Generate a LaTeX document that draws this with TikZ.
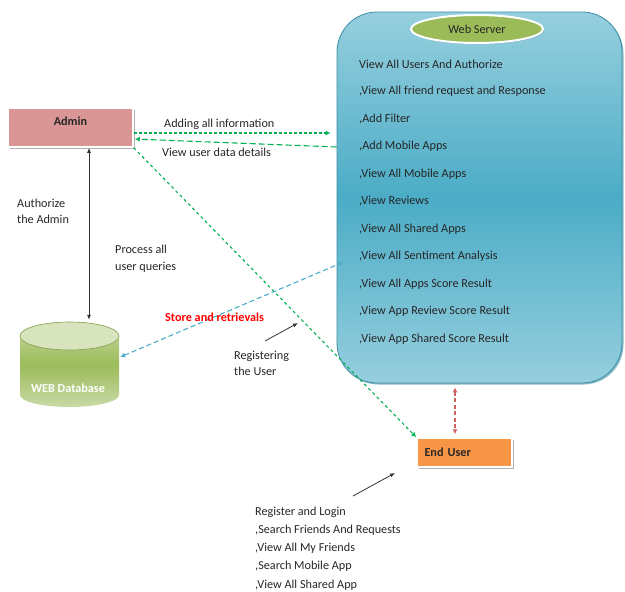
\documentclass[tikz,border=0pt]{standalone}
\usepackage{fontspec}
\setmainfont{Carlito}
\usetikzlibrary{arrows.meta,shadows,shapes.geometric}
\definecolor{txt}{HTML}{262626}
\definecolor{adminfill}{HTML}{D99694}
\definecolor{userfill}{HTML}{F79646}
\definecolor{wsgreen}{HTML}{9BBB59}
\definecolor{srvlight}{HTML}{96CFDE}
\definecolor{srvmid}{HTML}{4BACC6}
\definecolor{srvedge}{HTML}{3B8DA5}
\definecolor{dblight}{HTML}{C9DAA6}
\definecolor{dbtop}{HTML}{D7E4BD}
\definecolor{gline}{HTML}{00B050}
\definecolor{bline}{HTML}{4BACC6}
\definecolor{rline}{HTML}{D0605E}
\newcommand{\myfs}{\fontsize{12.2}{14}\selectfont}
\tikzset{
  base/.style={font=\myfs, text=txt},
  lbl/.style={base, anchor=west, inner sep=0pt},
  boxshadow/.style={drop shadow={shadow xshift=2pt,shadow yshift=-2pt,fill=black,opacity=0.3}},
  gdash/.style={draw=gline, line width=1.1pt, dash pattern=on 3pt off 2pt, -{Latex[length=5pt,width=5pt]}},
  gdashlong/.style={draw=gline, line width=1.1pt, dash pattern=on 6pt off 3pt, -{Latex[length=5pt,width=5pt]}},
  bdash/.style={draw=bline, line width=1.1pt, dash pattern=on 5pt off 3pt, {Latex[length=5pt,width=5pt]}-{Latex[length=5pt,width=5pt]}},
  rdash/.style={draw=rline, line width=1.1pt, dash pattern=on 4pt off 2.5pt, {Latex[length=5pt,width=5pt]}-{Latex[length=5pt,width=5pt]}},
  blk/.style={draw=black!80, line width=0.8pt, -{Latex[length=5pt,width=4pt]}},
}
\begin{document}
\begin{tikzpicture}[x=1pt,y=-1pt]
\useasboundingbox (0,0) rectangle (625,592);

% Web server box
\node (server) [draw=srvedge, line width=0.8pt, rounded corners=40pt, minimum width=285pt, minimum height=371pt,
  top color=srvlight, bottom color=srvlight, middle color=srvmid,
  drop shadow={shadow xshift=1.5pt,shadow yshift=-1.5pt,fill=srvedge,opacity=0.6}] at (479.5,197.5) {};
\node (wslabel) [ellipse, draw=white, line width=2pt, fill=wsgreen, minimum width=132pt, minimum height=28pt, inner sep=0pt,
  base, drop shadow={shadow xshift=1pt,shadow yshift=-1pt,fill=black,opacity=0.25}] at (477,29) {Web Server};

\node (s1) [lbl] at (359,64) {View All Users And Authorize};
\node (s2) [lbl] at (359,91.5) {,View All friend request and Response};
\node (s3) [lbl] at (359,119) {,Add Filter};
\node (s4) [lbl] at (359,146.5) {,Add Mobile Apps};
\node (s5) [lbl] at (359,174) {,View All Mobile Apps};
\node (s6) [lbl] at (359,201.5) {,View Reviews};
\node (s7) [lbl] at (359,229) {,View All Shared Apps};
\node (s8) [lbl] at (359,256.5) {,View All Sentiment Analysis};
\node (s9) [lbl] at (359,284) {,View All Apps Score Result};
\node (s10) [lbl] at (359,311.5) {,View App Review Score Result};
\node (s11) [lbl] at (359,339) {,View App Shared Score Result};

% Admin
\node (admin) [fill=adminfill, draw=white, line width=1.5pt, boxshadow, minimum width=125pt, minimum height=39pt,
  base, font=\myfs\bfseries, text depth=12pt, text height=8pt, inner ysep=0pt] at (70.5,127.5) {Admin};

% End user
\node (enduser) [fill=userfill, draw=white, line width=1.5pt, boxshadow, minimum width=95pt, minimum height=29pt,
  text width=80pt, inner xsep=7.5pt, align=left, base, font=\myfs\bfseries] at (464.5,452.5) {End User};

% Database cylinder
\shade[top color=dblight, bottom color=dblight, middle color=wsgreen]
  (20,336) -- (20,395) .. controls (20,401.6) and (42.2,407) .. (69.5,407)
  .. controls (96.8,407) and (119,401.6) .. (119,395) -- (119,336)
  .. controls (119,328.3) and (96.8,322) .. (69.5,322)
  .. controls (42.2,322) and (20,328.3) .. (20,336) -- cycle;
\draw[draw=wsgreen!85!black, line width=0.6pt, fill=dbtop] (69.5,336) ellipse [x radius=49.5pt, y radius=14pt];
\node (db) [minimum width=99pt, minimum height=85pt, inner sep=0pt] at (69.5,364.5) {};
\node (dbtext) [text=white, font=\myfs\bfseries] at (68,388) {WEB Database};

% Connectors
\draw[gdash, shorten >=6pt] ([yshift=-5.5pt]admin.east) -- ([yshift=64.5pt]server.west);
\draw[gdashlong, shorten >=1pt] ([yshift=50.5pt]server.west) -- ([yshift=-11.5pt]admin.east);
\draw[gdash, dash pattern=on 3pt off 3pt] (admin.south east) -- (enduser.north west);
\draw[draw=black!80, line width=0.8pt, {Latex[length=5pt,width=4pt]}-{Latex[length=5pt,width=4pt]}]
  ([xshift=18.5pt]admin.south) -- ([xshift=19.5pt,yshift=2pt]db.north);
\draw[bdash] ([xshift=1pt,yshift=7.5pt]db.east) -- ([xshift=7pt,yshift=-64.5pt]server.west);
\draw[rdash, shorten <=4pt, shorten >=3pt] ([xshift=-24.5pt]server.south) -- ([xshift=-9.5pt]enduser.north);

% Labels
\node (l1) [lbl] at (164,124) {Adding all information};
\node (l2) [lbl] at (162,152) {View user data details};
\node (l3) [lbl, align=left, font=\fontsize{12.2}{16.5}\selectfont] at (17,211.5) {Authorize\\the Admin};
\node (l4) [lbl, align=left, font=\fontsize{12.2}{16.5}\selectfont] at (115,258.5) {Process all\\user queries};
\node (l5) [lbl, text=red, font=\myfs\bfseries] at (165,317) {Store and retrievals};
\node (l6) [lbl, align=left, font=\fontsize{12.2}{16.5}\selectfont] at (234,363.5) {Registering\\the User};
\coordinate (r1) at (265,341);
\coordinate (r2) at (298,323);
\draw[blk] (r1) -- (r2);

\coordinate (u1) at (353,496);
\coordinate (u2) at (395,473);
\draw[blk] (u1) -- (u2);
\node (ul) [lbl, align=left, font=\fontsize{12.2}{18.2}\selectfont] at (255,548.5)
  {Register and Login\\,Search Friends And Requests\\,View All My Friends\\,Search Mobile App\\,View All Shared App};
\end{tikzpicture}
\end{document}
